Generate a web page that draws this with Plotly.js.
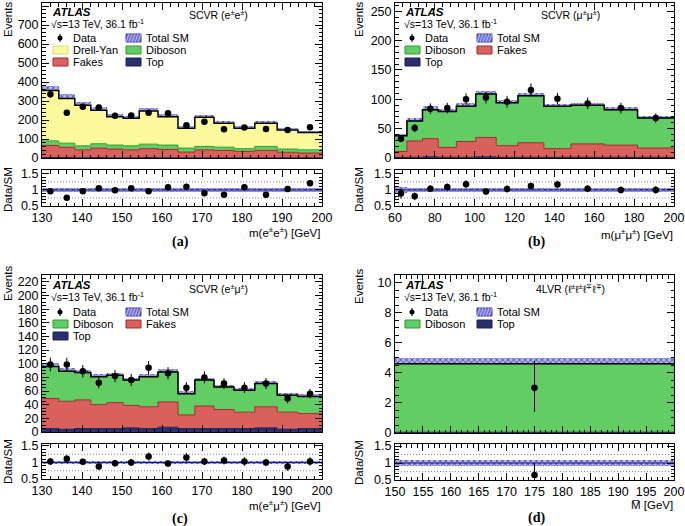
<!DOCTYPE html>
<html><head><meta charset="utf-8">
<script src="https://cdn.plot.ly/plotly-3.0.1.min.js"></script>
<style>html,body{margin:0;padding:0;background:#fff}#chart{width:685px;height:526px}</style>
</head><body><div id="chart"></div>
<script>
// ---------------- DATA ----------------
// Panel (a) SCVR e±e±
const edges_a = [130,134.2,138.2,142.2,146.2,150.3,154.3,159,164,168.2,173,178,183.2,188.8,194,200];
const top_a     = [2,2,1,2,1,1,2,1,1,1,1,1,1,1,1];
const fakes_a   = [64,54,42,50,46,42,47,44,30,42,39,34,39,29,25];
const diboson_a = [24,22,21,23,21,21,24,23,21,18,17,14,21,17,17];
const dy_a      = [266,235,214,177,149,145,174,149,105,153,126,108,122,101,91];
const relErr_a  = [0.07,0.07,0.06,0.06,0.06,0.06,0.06,0.06,0.07,0.07,0.07,0.07,0.06,0.05,0.06];
const data_a    = [336,238,270,266,223,224,238,235,172,191,151,160,153,148,162];
const dataErr_a = [18,15,16,16,15,15,15,15,13,14,12,13,12,12,13];
const ratio_a   = [0.96,0.76,0.96,1.05,0.99,1.05,0.96,1.08,1.1,0.9,0.85,1.08,0.85,1.03,1.21];
const ratioErr_a= [0.05,0.05,0.06,0.06,0.07,0.07,0.06,0.07,0.08,0.07,0.07,0.08,0.07,0.08,0.1];

// Panel (b) SCVR μ±μ±
const edges_b = [60,66,73.8,81.7,90.8,100.5,110.8,121.7,134.7,148.3,165,181.7,200];
const top_b     = [1,1,2,1,1,2,1,1,1,1,1,1];
const fakes_b   = [10,28,31,17,27,33,20,25,15,23,21,16];
const diboson_b = [27,34,49,61,60,74,73,80,72,66,60,51];
const relErr_b  = [0.08,0.07,0.07,0.06,0.06,0.05,0.05,0.05,0.05,0.05,0.05,0.05];
const data_b    = [33,51,84,85,100,103,96,116,101,93,85,68];
const dataErr_b = [6,7,9,9,10,10,10,11,10,10,9,8];
const ratio_b   = [0.89,0.8,1.04,1.09,1.18,0.95,1.03,1.12,1.17,1.04,1.0,1.0];
const ratioErr_b= [0.16,0.12,0.11,0.11,0.12,0.1,0.11,0.1,0.12,0.11,0.11,0.12];

// Panel (c) SCVR e±μ±
const edges_c = [130,134.2,138.2,142.2,146.2,150.3,154.3,159,164,168.2,173,178,183.2,188.8,194,200];
const top_c     = [5,4,5,5,5,6,5,7,5,5,5,5,6,4,5];
const fakes_c   = [44,41,42,35,38,33,32,37,20,33,28,24,31,25,22];
const diboson_c = [47,44,40,41,40,37,44,44,31,38,33,32,34,25,25];
const relErr_c  = [0.05,0.05,0.05,0.05,0.05,0.05,0.05,0.05,0.06,0.05,0.05,0.06,0.05,0.06,0.06];
const data_c    = [99,99,89,72,82,76,94,86,65,80,71,65,71,49,56];
const dataErr_c = [10,10,9,8,9,9,10,9,8,9,8,8,8,7,7];
const ratio_c   = [1.03,1.11,1.02,0.88,0.98,1.0,1.18,0.97,1.15,1.03,1.06,1.03,1.0,0.88,1.03];
const ratioErr_c= [0.1,0.11,0.1,0.1,0.1,0.11,0.12,0.1,0.14,0.11,0.12,0.13,0.11,0.13,0.13];

// Panel (d) 4LVR
const edges_d = [150,200];
const top_d     = [0.05];
const diboson_d = [4.55];
const relErr_d  = [0.08];
const data_d    = [3];
const dataErrUp_d = [1.8];
const dataErrDn_d = [1.6];
const ratio_d   = [0.65];
const ratioErrUp_d = [0.35];
const ratioErrDn_d = [0.4];

// ---------------- STYLE ----------------
const W=685,H=526;
const X=p=>p/W, Y=p=>1-p/H;
const FONT='"Liberation Sans", Arial, sans-serif';
const C = {dy:'#fbfb9e', dyL:'#e6e67a', dib:'#62cd62', dibL:'#2e9a2e', fak:'#d8615d', fakL:'#a52a2a', top:'#2b2f6f', topL:'#1c1f50',
           hatchFg:'#3a3ab8', hatchBg:'#b4b4ec'};

function step(v){return v.concat([v[v.length-1]]);}
function centers(e){const c=[];for(let i=0;i<e.length-1;i++)c.push((e[i]+e[i+1])/2);return c;}
function widths(e){const w=[];for(let i=0;i<e.length-1;i++)w.push(e[i+1]-e[i]);return w;}
function sumArr(){const a=arguments;return a[0].map((_,i)=>{let s=0;for(const arr of a)s+=arr[i];return s;});}

const traces=[];
function stackLayer(e,vals,fill,line,xa,ya,grp){
  traces.push({type:'scatter',mode:'lines',x:e,y:step(vals),stackgroup:grp,line:{shape:'hv',color:line,width:1},
    fillcolor:fill,xaxis:xa,yaxis:ya,showlegend:false,hoverinfo:'skip'});
}
function band(e,base,err,xa,ya){
  traces.push({type:'bar',x:centers(e),width:widths(e),base:base.map((b,i)=>b-err[i]),y:err.map(v=>2*v),
    marker:{color:C.hatchBg,line:{width:0},pattern:{shape:'x',fgcolor:C.hatchFg,bgcolor:C.hatchBg,size:4,solidity:0.35}},
    xaxis:xa,yaxis:ya,showlegend:false,hoverinfo:'skip'});
}
function totLine(e,tot,xa,ya,col,w){
  traces.push({type:'scatter',mode:'lines',x:e,y:step(tot),line:{shape:'hv',color:col,width:w},xaxis:xa,yaxis:ya,showlegend:false,hoverinfo:'skip'});
}
function points(e,v,errUp,errDn,xa,ya){
  traces.push({type:'scatter',mode:'markers',x:centers(e),y:v,marker:{color:'black',size:6.5},
    error_y:{type:'data',symmetric:errDn?false:true,array:errUp,arrayminus:errDn||errUp,color:'black',thickness:1,width:0},
    xaxis:xa,yaxis:ya,showlegend:false,hoverinfo:'skip',cliponaxis:true});
}

// Panel a
stackLayer(edges_a,top_a,C.top,C.topL,'x','y','sa');
stackLayer(edges_a,fakes_a,C.fak,C.fakL,'x','y','sa');
stackLayer(edges_a,diboson_a,C.dib,C.dibL,'x','y','sa');
stackLayer(edges_a,dy_a,C.dy,C.dy,'x','y','sa');
const tot_a=sumArr(top_a,fakes_a,diboson_a,dy_a);
band(edges_a,tot_a,tot_a.map((t,i)=>t*relErr_a[i]),'x','y');
totLine(edges_a,tot_a,'x','y','black',1.5);
points(edges_a,data_a,dataErr_a,null,'x','y');
band(edges_a,tot_a.map(()=>1),relErr_a,'x2','y2');
totLine(edges_a,tot_a.map(()=>1),'x2','y2','#1a1a7a',1);
points(edges_a,ratio_a,ratioErr_a,null,'x2','y2');

// Panel b
stackLayer(edges_b,top_b,C.top,C.topL,'x3','y3','sb');
stackLayer(edges_b,fakes_b,C.fak,C.fakL,'x3','y3','sb');
stackLayer(edges_b,diboson_b,C.dib,C.dibL,'x3','y3','sb');
const tot_b=sumArr(top_b,fakes_b,diboson_b);
band(edges_b,tot_b,tot_b.map((t,i)=>t*relErr_b[i]),'x3','y3');
totLine(edges_b,tot_b,'x3','y3','black',1.5);
points(edges_b,data_b,dataErr_b,null,'x3','y3');
band(edges_b,tot_b.map(()=>1),relErr_b,'x4','y4');
totLine(edges_b,tot_b.map(()=>1),'x4','y4','#1a1a7a',1);
points(edges_b,ratio_b,ratioErr_b,null,'x4','y4');

// Panel c
stackLayer(edges_c,top_c,C.top,C.topL,'x5','y5','sc');
stackLayer(edges_c,fakes_c,C.fak,C.fakL,'x5','y5','sc');
stackLayer(edges_c,diboson_c,C.dib,C.dibL,'x5','y5','sc');
const tot_c=sumArr(top_c,fakes_c,diboson_c);
band(edges_c,tot_c,tot_c.map((t,i)=>t*relErr_c[i]),'x5','y5');
totLine(edges_c,tot_c,'x5','y5','black',1.5);
points(edges_c,data_c,dataErr_c,null,'x5','y5');
band(edges_c,tot_c.map(()=>1),relErr_c,'x6','y6');
totLine(edges_c,tot_c.map(()=>1),'x6','y6','#1a1a7a',1);
points(edges_c,ratio_c,ratioErr_c,null,'x6','y6');

// Panel d
stackLayer(edges_d,top_d,C.top,C.topL,'x7','y7','sd');
stackLayer(edges_d,diboson_d,C.dib,C.dibL,'x7','y7','sd');
const tot_d=sumArr(top_d,diboson_d);
band(edges_d,tot_d,tot_d.map((t,i)=>t*relErr_d[i]),'x7','y7');
totLine(edges_d,tot_d,'x7','y7','black',1.5);
points(edges_d,data_d,dataErrUp_d,dataErrDn_d,'x7','y7');
band(edges_d,tot_d.map(()=>1),relErr_d,'x8','y8');
totLine(edges_d,tot_d.map(()=>1),'x8','y8','#1a1a7a',1);
points(edges_d,ratio_d,ratioErrUp_d,ratioErrDn_d,'x8','y8');

// ---------------- AXES ----------------
function xax(x0,x1,range,dt,mdt,labels,anchor){
  return {domain:[X(x0),X(x1)],range:range,dtick:dt,tick0:range[0],showticklabels:labels,ticks:'inside',ticklen:7,tickwidth:1,tickcolor:'black',
    minor:{ticks:'inside',ticklen:3.5,dtick:mdt,tickcolor:'black',tickwidth:1,showgrid:false},
    showline:true,linecolor:'black',linewidth:1,mirror:'allticks',showgrid:false,zeroline:false,anchor:anchor,
    tickfont:{family:FONT,size:12.5,color:'black'},fixedrange:true};
}
function yax(y0,y1,range,opts,anchor){
  const o={domain:[Y(y1),Y(y0)],range:range,ticks:'inside',ticklen:7,tickwidth:1,tickcolor:'black',
    showline:true,linecolor:'black',linewidth:1,mirror:'allticks',showgrid:false,zeroline:false,anchor:anchor,
    tickfont:{family:FONT,size:12.5,color:'black'},fixedrange:true};
  return Object.assign(o,opts);
}
const ratioY={tickvals:[0.5,1,1.5],ticktext:['0.5','1','1.5'],minor:{ticks:'inside',ticklen:3.5,dtick:0.1,tick0:0.5,tickcolor:'black',tickwidth:1,showgrid:false}};
function mainY(dt,mdt){return {dtick:dt,tick0:0,minor:{ticks:'inside',ticklen:3.5,dtick:mdt,tick0:0,tickcolor:'black',tickwidth:1,showgrid:false}};}

const layout={
  width:W,height:H,margin:{l:0,r:0,t:0,b:0},paper_bgcolor:'white',plot_bgcolor:'white',showlegend:false,barmode:'overlay',bargap:0,
  font:{family:FONT,color:'black'},
  xaxis: xax(42,322,[130,200],10,2,false,'y'),
  yaxis: yax(3,158,[0,816],mainY(100,20),'x'),
  xaxis2:xax(42,322,[130,200],10,2,true,'y2'),
  yaxis2:yax(170,206,[0.5,1.62],ratioY,'x2'),
  xaxis3:xax(395,674,[60,200],20,4,false,'y3'),
  yaxis3:yax(3,158,[0,264],mainY(50,10),'x3'),
  xaxis4:xax(395,674,[60,200],20,4,true,'y4'),
  yaxis4:yax(170,206,[0.5,1.62],ratioY,'x4'),
  xaxis5:xax(42,322,[130,200],10,2,false,'y5'),
  yaxis5:yax(275,432,[0,230],mainY(20,5),'x5'),
  xaxis6:xax(42,322,[130,200],10,2,true,'y6'),
  yaxis6:yax(444,479,[0.5,1.56],ratioY,'x6'),
  xaxis7:xax(395,674,[150,200],5,1,false,'y7'),
  yaxis7:yax(275,433,[0,10.5],mainY(2,0.5),'x7'),
  xaxis8:xax(395,674,[150,200],5,1,true,'y8'),
  yaxis8:yax(444,480,[0.5,1.56],ratioY,'x8'),
};

// dotted reference lines in ratio panels
const shapes=[];
[['x2','y2'],['x4','y4'],['x6','y6'],['x8','y8']].forEach(([xa,ya])=>{
  [0.75,1.25].forEach(v=>shapes.push({type:'line',xref:xa+' domain',yref:ya,x0:0,x1:1,y0:v,y1:v,line:{color:'#666',width:0.8,dash:'1px,2px'},layer:'below'}));
});

// ---------------- TEXT & LEGEND ----------------
const ann=[];
function txt(x,y,t,o){ann.push(Object.assign({xref:'paper',yref:'paper',x:X(x),y:Y(y),text:t,showarrow:false,xanchor:'left',yanchor:'middle',
  font:{family:FONT,size:11,color:'black'}},o||{}));}

function header(x0,y0,region,rx){
  txt(x0,y0,'<b><i>ATLAS</i></b>',{font:{family:FONT,size:11.5,color:'black'}});
  txt(x0-1,y0+11.5,'√s=13 TeV, 36.1 fb<sup>-1</sup>',{font:{family:FONT,size:10.5,color:'black'}});
  txt(rx,y0+3,region,{xanchor:'center',font:{family:FONT,size:10.5,color:'black'}});
}
header(50,12,'SCVR (e<sup>±</sup>e<sup>±</sup>)',218);
header(403,12,'SCVR (μ<sup>±</sup>μ<sup>±</sup>)',570);
header(50,285,'SCVR (e<sup>±</sup>μ<sup>±</sup>)',218);
header(403,285,'4LVR (ℓ<sup>±</sup>ℓ<sup>±</sup>ℓ<sup>∓</sup>ℓ<sup>∓</sup>)',570);

function legBox(x,y,fill,line,label,hatch){
  shapes.push({type:'rect',xref:'paper',yref:'paper',x0:X(x),x1:X(x+15),y0:Y(y+4),y1:Y(y-4),fillcolor:fill,line:{color:line,width:1}});
  if(hatch){
    for(let k=0;k<5;k++){
      shapes.push({type:'line',xref:'paper',yref:'paper',x0:X(x+k*3),x1:X(x+k*3+3),y0:Y(y+4),y1:Y(y-4),line:{color:'#ffffff',width:0.6}});
    }
  }
  txt(x+18,y,label);
}
function legData(x,y){
  shapes.push({type:'line',xref:'paper',yref:'paper',x0:X(x),x1:X(x),y0:Y(y+4),y1:Y(y-4),line:{color:'black',width:1}});
  shapes.push({type:'circle',xref:'paper',yref:'paper',x0:X(x-2.5),x1:X(x+2.5),y0:Y(y+2.5),y1:Y(y-2.5),fillcolor:'black',line:{color:'black',width:0}});
  txt(x+11,y,'Data');
}
// (a)
legData(60,38); legBox(53,50,C.dy,'#d8d880','Drell-Yan'); legBox(53,62,C.fak,C.fakL,'Fakes');
legBox(126,38,'#6f6fd6','#3a3ab8','Total SM',true); legBox(126,50,C.dib,C.dibL,'Diboson'); legBox(126,62,C.top,C.topL,'Top');
// (b)
legData(412,38); legBox(405,50,C.dib,C.dibL,'Diboson'); legBox(405,62,C.top,C.topL,'Top');
legBox(477,38,'#6f6fd6','#3a3ab8','Total SM',true); legBox(477,50,C.fak,C.fakL,'Fakes');
// (c)
legData(60,312); legBox(53,324,C.dib,C.dibL,'Diboson'); legBox(53,336,C.top,C.topL,'Top');
legBox(126,312,'#6f6fd6','#3a3ab8','Total SM',true); legBox(126,324,C.fak,C.fakL,'Fakes');
// (d)
legData(412,312); legBox(405,324,C.dib,C.dibL,'Diboson');
legBox(477,312,'#6f6fd6','#3a3ab8','Total SM',true); legBox(477,324,C.top,C.topL,'Top');

// axis titles
function ytitle(x,y,t){txt(x,y,t,{textangle:-90,xanchor:'center',yanchor:'middle',font:{family:FONT,size:11.5,color:'black'}});}
ytitle(8,20,'Events'); ytitle(8,190,'Data/SM');
ytitle(359,20,'Events'); ytitle(359,190,'Data/SM');
ytitle(8,284,'Events'); ytitle(8,462,'Data/SM');
ytitle(359,287,'Events'); ytitle(359,463,'Data/SM');
function xtitle(x,y,t){txt(x,y,t,{xanchor:'right',font:{family:FONT,size:11.5,color:'black'}});}
xtitle(323,232,'m(e<sup>±</sup>e<sup>±</sup>) [GeV]');
xtitle(675,234,'m(μ<sup>±</sup>μ<sup>±</sup>) [GeV]');
xtitle(323,505,'m(e<sup>±</sup>μ<sup>±</sup>) [GeV]');
xtitle(675,505,'M\u0305 [GeV]');
function plabel(x,y,t){txt(x,y,'<b>'+t+'</b>',{xanchor:'center',font:{family:'"Liberation Serif","DejaVu Serif",serif',size:14,color:'black'}});}
plabel(180,242,'(a)'); plabel(536,242,'(b)'); plabel(180,519,'(c)'); plabel(536,518,'(d)');

layout.annotations=ann; layout.shapes=shapes;
Plotly.newPlot('chart',traces,layout,{staticPlot:true,displayModeBar:false});
</script></body></html>
